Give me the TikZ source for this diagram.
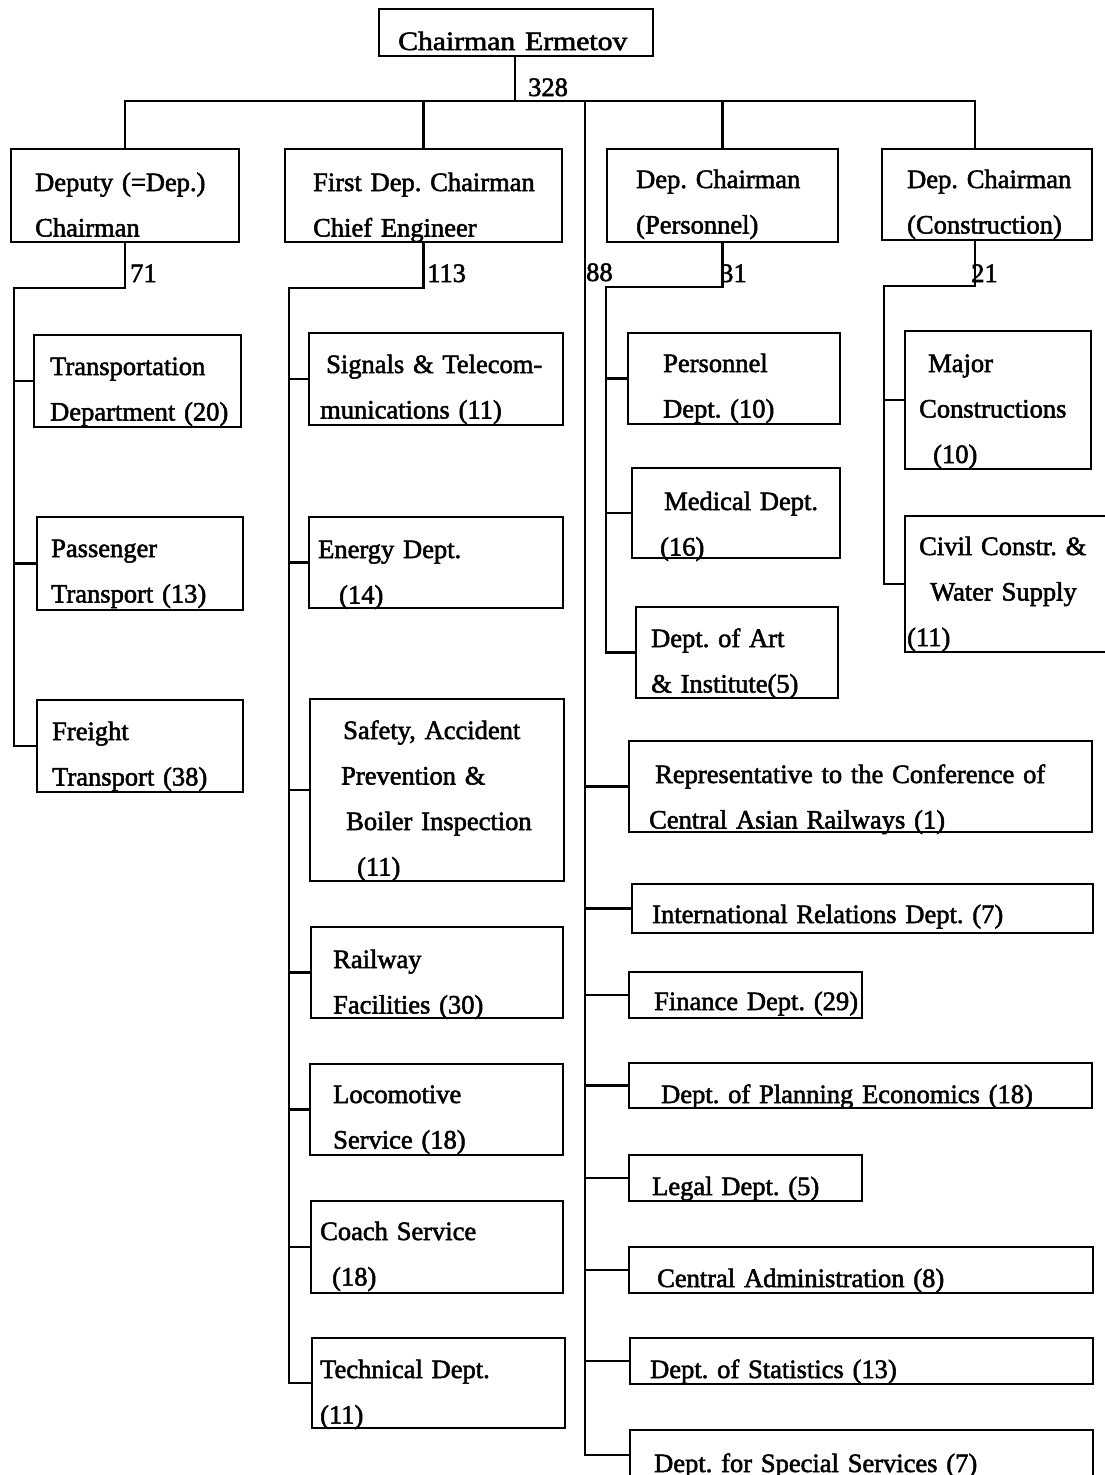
\documentclass[tikz,border=0pt]{standalone}
\usepackage{fontspec}
\setmainfont{Liberation Serif}[FakeBold=2]
\usetikzlibrary{fit}
\begin{document}
\begin{tikzpicture}[x=1pt,y=-1pt,
  font=\fontsize{26.5}{45.5}\selectfont\frenchspacing,
  box/.style={draw,line width=1.8pt,inner sep=0pt},
  wire/.style={line width=2.2pt},
  txt/.style={anchor=base west,inner sep=0pt,text width=480pt,align=left}]
  \useasboundingbox (0,0) rectangle (1104,1475);

  % top and deputies
  \node[box,fit={(379,9) (653,56)}] (chair) {};
  \node[box,fit={(11,149) (239,242)}] (dep) {};
  \node[box,fit={(285,149) (562,242)}] (fdc) {};
  \node[box,fit={(607,149) (838,242)}] (per) {};
  \node[box,fit={(882,149) (1092,240)}] (con) {};
  \node[txt] (chair-t) at (398,50) {\scalebox{1.12}[1]{Chairman Ermetov}};
  \node[txt] (dep-t) at (35,191) {Deputy (=Dep.)\\Chairman};
  \node[txt] (fdc-t) at (313,191) {First Dep. Chairman\\Chief Engineer};
  \node[txt] (per-t) at (636,188) {Dep. Chairman\\(Personnel)};
  \node[txt] (con-t) at (907,188) {Dep. Chairman\\(Construction)};
  \node[txt] (n328) at (528,96) {328};
  \node[txt] (n71) at (130,282) {71};
  \node[txt] (n113) at (427,282) {113};
  \node[txt] (n88) at (586,281) {88};
  \node[txt] (n31) at (720,282) {31};
  \node[txt] (n21) at (971,282) {21};

  % departments
  \node[box,fit={(34,335) (241,427)}] (trans) {};
  \node[box,fit={(37,517) (243,610)}] (pass) {};
  \node[box,fit={(37,700) (243,792)}] (frt) {};
  \node[txt] (trans-t) at (50,375) {Transportation\\Department (20)};
  \node[txt] (pass-t) at (51,557) {Passenger\\Transport (13)};
  \node[txt] (frt-t) at (52,740) {Freight\\Transport (38)};

  \node[box,fit={(309,333) (563,425)}] (sig) {};
  \node[box,fit={(309,517) (563,608)}] (energy) {};
  \node[box,fit={(310,699) (564,881)}] (safety) {};
  \node[box,fit={(311,927) (563,1018)}] (rail) {};
  \node[box,fit={(310,1064) (563,1155)}] (loco) {};
  \node[box,fit={(311,1201) (563,1293)}] (coach) {};
  \node[box,fit={(312,1338) (565,1428)}] (tech) {};
  \node[txt] (sig-t) at (320,373) {\hspace*{6pt}Signals \& Telecom-\\munications (11)};
  \node[txt] (energy-t) at (318,558) {Energy Dept.\\\hspace*{21pt}(14)};
  \node[txt] (safety-t) at (341,739) {\hspace*{2pt}Safety, Accident\\Prevention \&\\\hspace*{5pt}Boiler Inspection\\\hspace*{16pt}(11)};
  \node[txt] (rail-t) at (333,968) {Railway\\Facilities (30)};
  \node[txt] (loco-t) at (333,1103) {Locomotive\\Service (18)};
  \node[txt] (coach-t) at (320,1240) {Coach Service\\\hspace*{12pt}(18)};
  \node[txt] (tech-t) at (320,1378) {Technical Dept.\\(11)};

  \node[box,fit={(628,333) (840,424)}] (pdept) {};
  \node[box,fit={(632,468) (840,558)}] (med) {};
  \node[box,fit={(636,607) (838,698)}] (art) {};
  \node[txt] (pdept-t) at (663,372) {Personnel\\Dept. (10)};
  \node[txt] (med-t) at (660,510) {\hspace*{4pt}Medical Dept.\\(16)};
  \node[txt] (art-t) at (651,647) {Dept. of Art\\\& Institute(5)};

  \node[box,fit={(905,331) (1091,469)}] (major) {};
  \node[box,fit={(905,516) (1115,652)}] (civil) {};
  \node[txt] (major-t) at (919,372) {\hspace*{9pt}Major\\Constructions\\\hspace*{14pt}(10)};
  \node[txt] (civil-t) at (907,555) {\hspace*{12pt}Civil Constr. \&\\\hspace*{23pt}Water Supply\\(11)};

  \node[box,fit={(629,741) (1092,832)}] (rep) {};
  \node[box,fit={(632,884) (1093,933)}] (intl) {};
  \node[box,fit={(629,972) (862,1018)}] (fin) {};
  \node[box,fit={(629,1063) (1092,1108)}] (plan) {};
  \node[box,fit={(629,1155) (862,1201)}] (legal) {};
  \node[box,fit={(629,1247) (1093,1293)}] (admin) {};
  \node[box,fit={(630,1338) (1093,1384)}] (stat) {};
  \node[box,fit={(630,1430) (1093,1480)}] (spec) {};
  \node[txt] (rep-t) at (649,783) {\hspace*{6pt}Representative to the Conference of\\Central Asian Railways (1)};
  \node[txt] (intl-t) at (652,923) {International Relations Dept. (7)};
  \node[txt] (fin-t) at (654,1010) {Finance Dept. (29)};
  \node[txt] (plan-t) at (661,1103) {Dept. of Planning Economics (18)};
  \node[txt] (legal-t) at (652,1195) {Legal Dept. (5)};
  \node[txt] (admin-t) at (657,1287) {Central Administration (8)};
  \node[txt] (stat-t) at (650,1378) {Dept. of Statistics (13)};
  \node[txt] (spec-t) at (654,1472) {Dept. for Special Services (7)};

  % connectors
  \coordinate (hub) at (515,101);
  \coordinate (staff) at (585,101);
  \coordinate (con-in) at (975,149);
  \coordinate (dlane) at (14,288);
  \coordinate (flane) at (289,288);
  \coordinate (plane) at (606,287);
  \coordinate (clane) at (884,286);

  \draw[wire] (hub |- chair.south) -- (hub);
  \draw[wire] (dep.north) |- (hub) -| (con-in);
  \draw[wire] (fdc.north) -- (fdc.north |- hub);
  \draw[wire] (per.north) -- (per.north |- hub);

  \draw[wire] (dep.south) |- (dlane) |- (frt.west);
  \foreach \n in {trans,pass}{\draw[wire] (\n.west -| dlane) -- (\n.west);}
  \draw[wire] (fdc.south) |- (flane) |- (tech.west);
  \foreach \n in {sig,energy,safety,rail,loco,coach}{\draw[wire] (\n.west -| flane) -- (\n.west);}
  \draw[wire] (per.south) |- (plane) |- (art.west);
  \foreach \n in {pdept,med}{\draw[wire] (\n.west -| plane) -- (\n.west);}
  \draw[wire] (con.south -| con-in) |- (clane) |- (civil.west);
  \draw[wire] (major.west -| clane) -- (major.west);

  \draw[wire] (staff) |- (spec.west);
  \foreach \n in {rep,intl,fin,plan,legal,admin,stat}{\draw[wire] (\n.west -| staff) -- (\n.west);}
\end{tikzpicture}
\end{document}
